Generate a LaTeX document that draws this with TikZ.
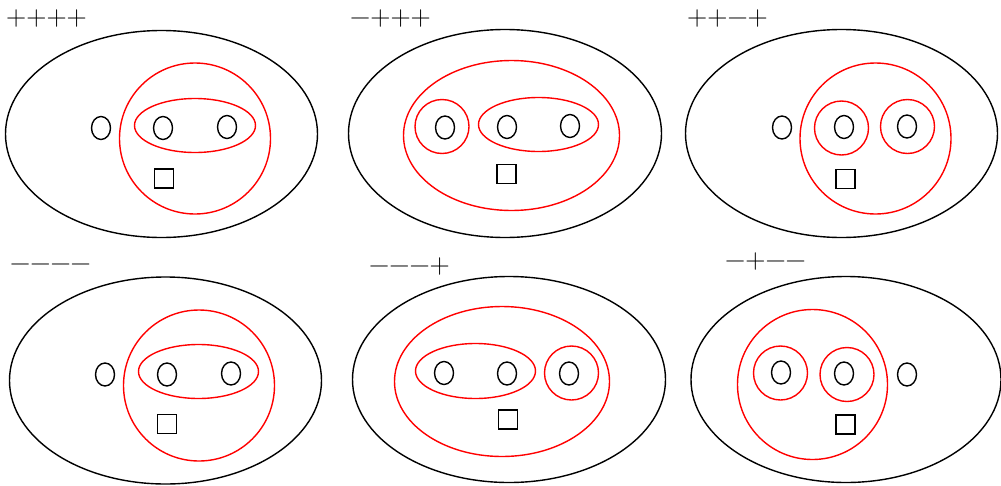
\documentclass[tikz,border=0pt]{standalone}
\usepackage{fontspec}
\begin{document}
\begin{tikzpicture}[x=1pt,y=-1pt,
  blk/.style={draw=black,line width=1.4pt},
  redc/.style={draw=red,line width=1.4pt},
  lbl/.style={inner sep=0pt,anchor=base west,font=\fontsize{28}{30}\selectfont},
  hole/.pic={\draw[blk] (0,0) ellipse [x radius=9.5,y radius=11.5];},
  box/.pic={\draw[blk] (-9.5,-9.5) rectangle (9.5,9.5);}]
\useasboundingbox (0,0) rectangle (1001,485);
% Panel 1
\node[lbl] (l1) at (6,25) {++++};
\draw[blk] (161.5,134) ellipse [x radius=156,y radius=103.5];
\pic at (101,128) {hole};
\draw[redc] (195,138.5) circle [radius=75.5];
\draw[redc] (195,125.5) ellipse [x radius=60.5,y radius=27];
\pic at (163,128) {hole};
\pic at (227,127) {hole};
\pic at (164,178.5) {box};
% Panel 2
\node[lbl] (l2) at (350,25) {−+++};
\draw[blk] (505,133.5) ellipse [x radius=156.5,y radius=104];
\draw[redc] (511.5,135.5) ellipse [x radius=108,y radius=75];
\draw[redc] (442,126.5) circle [radius=27];
\pic at (445,127.5) {hole};
\draw[redc] (538.5,124.5) ellipse [x radius=60,y radius=27];
\pic at (507,127) {hole};
\pic at (570,126) {hole};
\pic at (506.5,174) {box};
% Panel 3
\node[lbl] (l3) at (687,25) {++−+};
\draw[blk] (841.5,133.5) ellipse [x radius=156,y radius=104];
\pic at (782,127.5) {hole};
\draw[redc] (875.5,138.5) circle [radius=75.5];
\draw[redc] (841.5,128) circle [radius=27];
\pic at (844,127) {hole};
\draw[redc] (907.5,126.5) circle [radius=27];
\pic at (907,126.5) {hole};
\pic at (845.5,179) {box};
% Panel 4
\node[lbl] (l4) at (10,271) {−−−−};
\draw[blk] (165.5,380.5) ellipse [x radius=156,y radius=103.5];
\pic at (105,374.5) {hole};
\draw[redc] (199,385.5) circle [radius=75.5];
\draw[redc] (198.5,371.5) ellipse [x radius=60,y radius=27];
\pic at (167,374.5) {hole};
\pic at (231,373.5) {hole};
\pic at (167,424) {box};
% Panel 5
\node[lbl] (l5) at (369,273) {−−−+};
\draw[blk] (509,379.5) ellipse [x radius=156.5,y radius=103];
\draw[redc] (502,381.5) ellipse [x radius=107.5,y radius=75];
\draw[redc] (475.5,371) ellipse [x radius=60,y radius=27.5];
\pic at (444,373) {hole};
\pic at (507,373.5) {hole};
\draw[redc] (571.5,373) circle [radius=27];
\pic at (569,373.5) {hole};
\pic at (508,419.5) {box};
% Panel 6
\node[lbl] (l6) at (725,268) {−+−−};
\draw[blk] (846,379.5) ellipse [x radius=155,y radius=103];
\draw[redc] (812.5,384.5) circle [radius=75];
\draw[redc] (780.5,373) circle [radius=27];
\pic at (781,372.5) {hole};
\draw[redc] (847,374.5) circle [radius=27];
\pic at (844,373.5) {hole};
\pic at (907,374.5) {hole};
\pic at (845.5,424.5) {box};
\end{tikzpicture}
\end{document}
